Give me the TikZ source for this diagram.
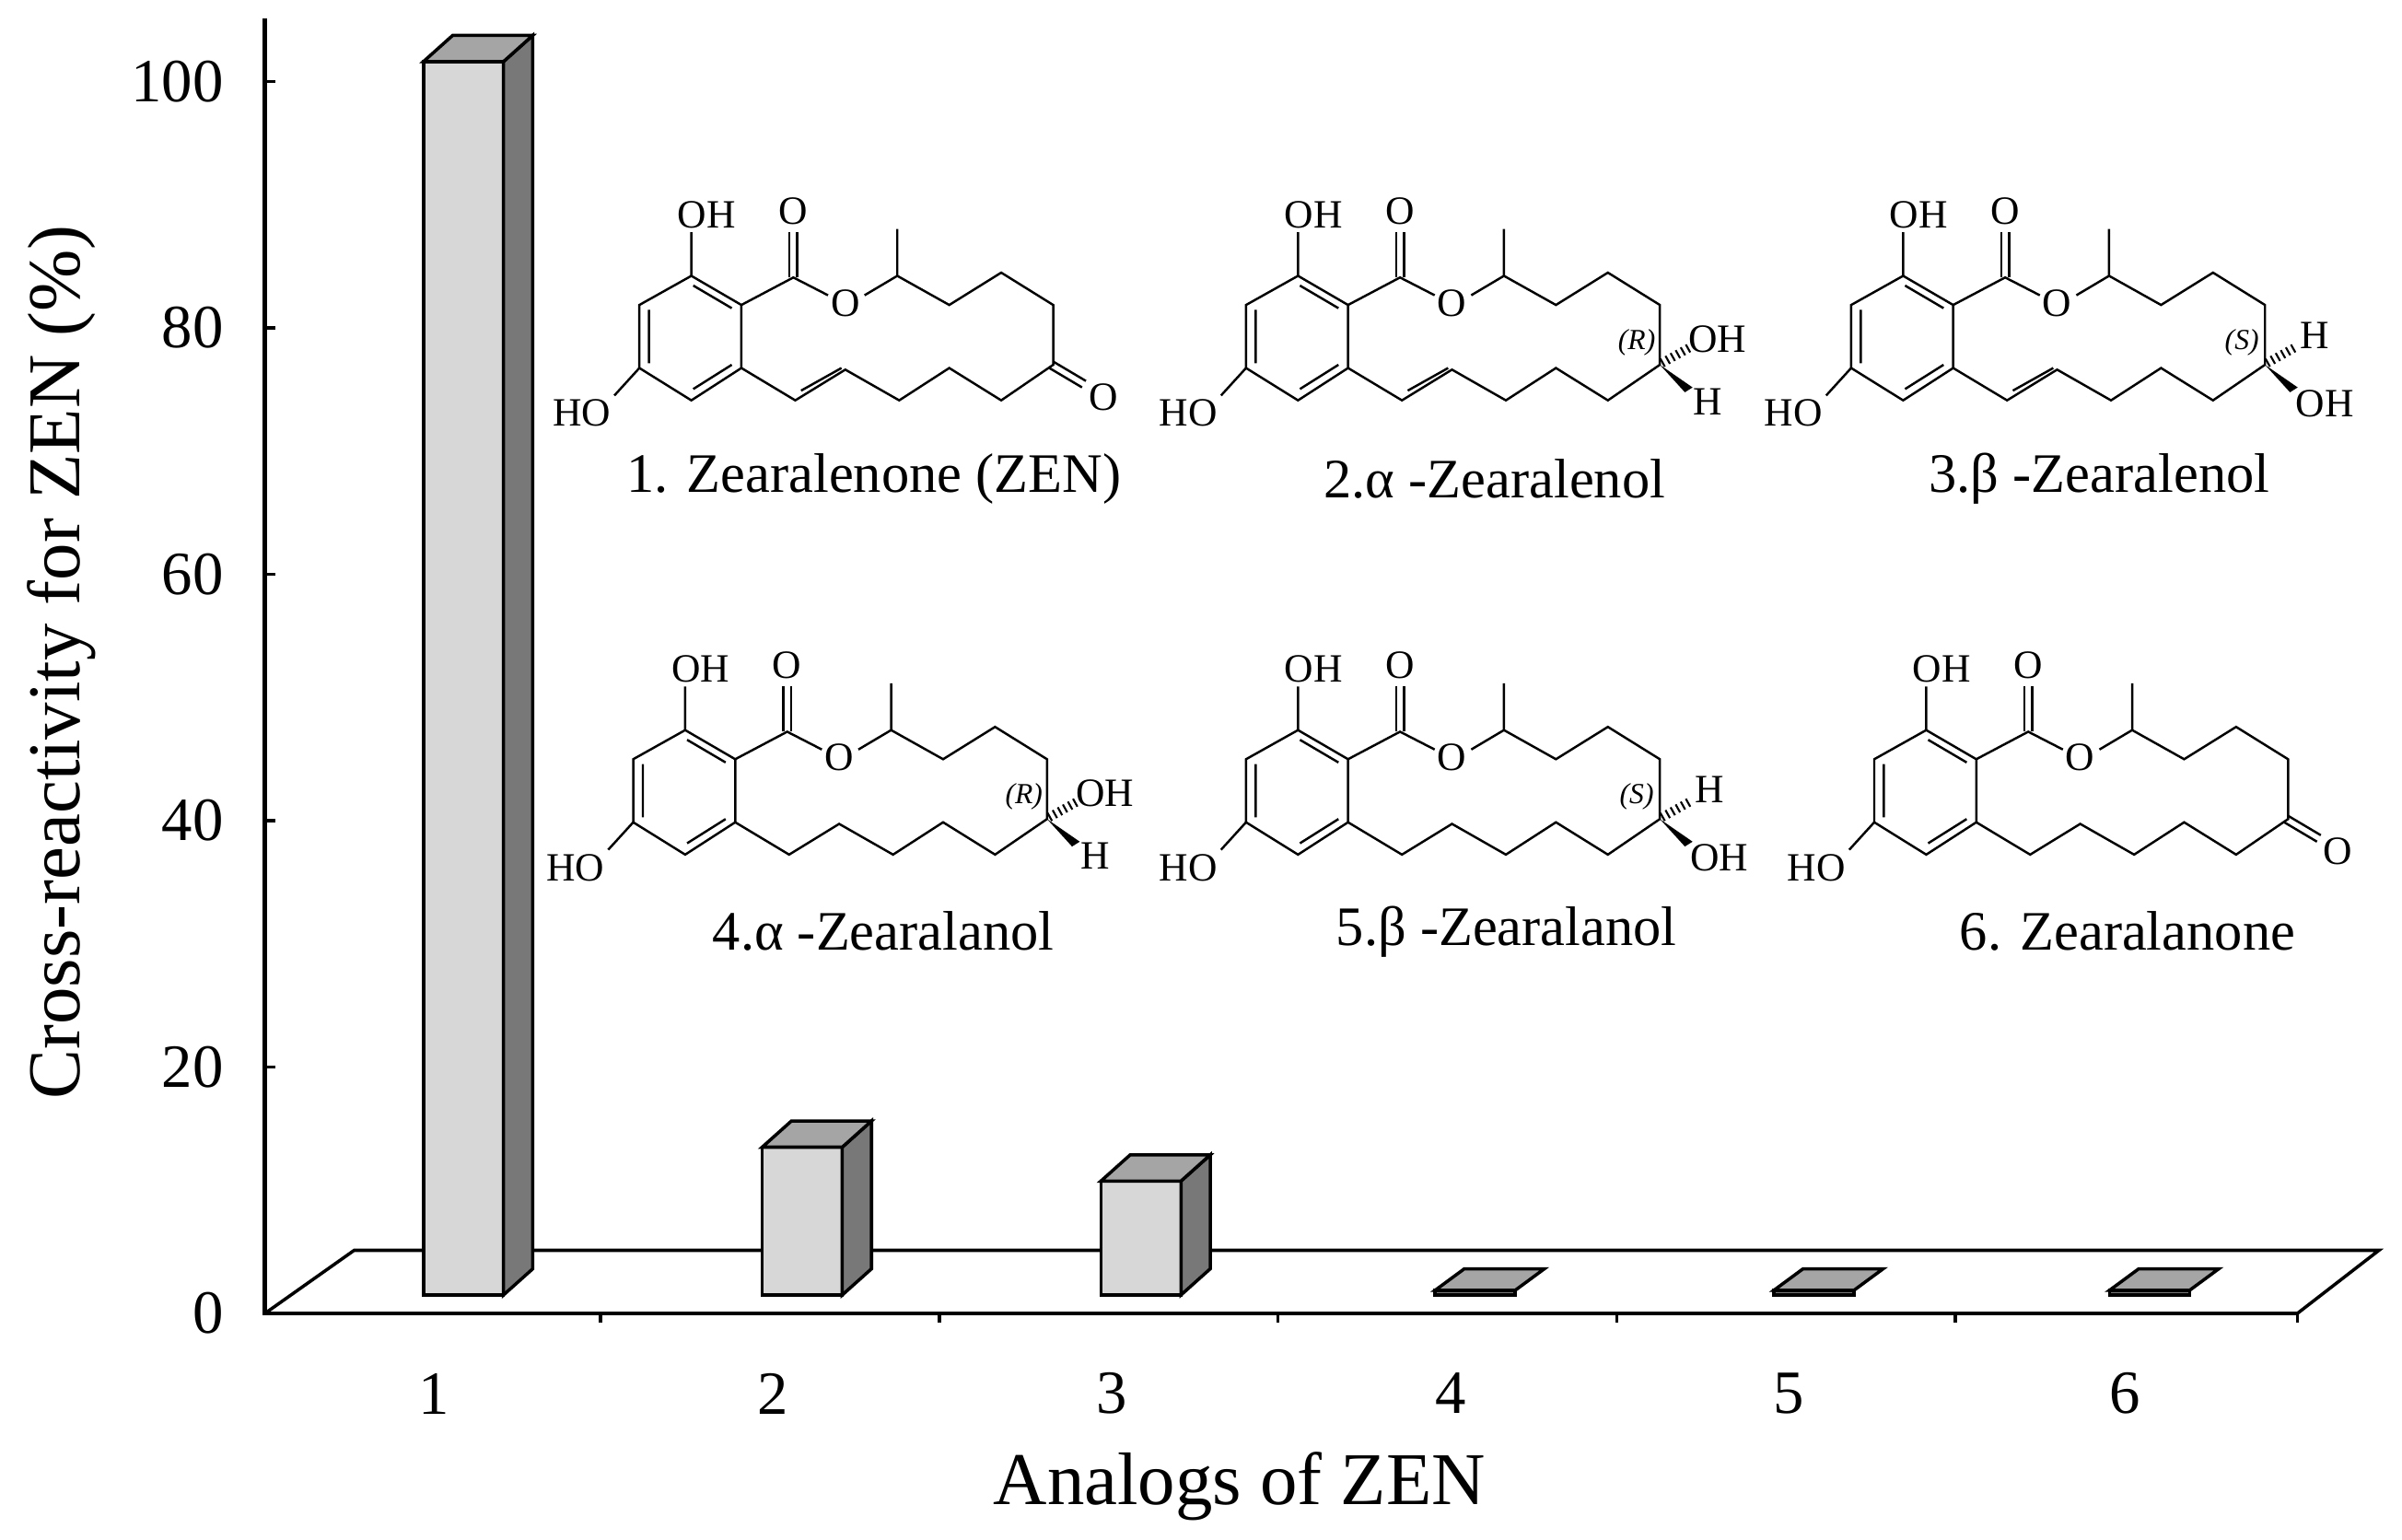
\documentclass[tikz,border=0pt]{standalone}
\usepackage{fontspec}
\setmainfont{LiberationSerif}[Extension=.ttf, UprightFont=*-Regular, BoldFont=*-Bold, ItalicFont=*-Italic, BoldItalicFont=*-BoldItalic]
\definecolor{barface}{RGB}{215,215,215}
\definecolor{barside}{RGB}{120,120,120}
\definecolor{bartop}{RGB}{165,165,165}
\tikzset{
  atom/.style={font=\fontsize{6.2}{7}\selectfont, inner sep=0.5pt},
  stereo/.style={font=\fontsize{4.5}{5}\selectfont\itshape, inner sep=0pt},
  bond/.style={line width=0.35pt},
  molname/.style={font=\fontsize{8.6}{10}\selectfont, anchor=west},
  ticklabel/.style={font=\fontsize{9.5}{11}\selectfont},
  face/.style={draw, fill=barface, line width=0.5pt},
  side/.style={draw, fill=barside, line width=0.5pt},
  top/.style={draw, fill=bartop, line width=0.5pt},
  mol/.style={xscale=0.25, yscale=0.21},
  % common skeleton of the analogs
  zencore/.pic={
    \draw[bond] (400,315) -- (530,405) -- (530,600) -- (400,700) -- (265,600) -- (265,405) -- cycle;
    \draw[bond] (405,345) -- (505,415) (505,590) -- (405,665) (290,420) -- (290,585);
    \draw[bond] (400,315) -- (400,180) (265,600) -- (200,685);
    \node[atom] (-oh) at (440,125) {OH};
    \node[atom] (-ho) at (115,740) {HO};
    \draw[bond] (530,405) -- (665,320) -- (755,375);
    \draw[bond] (655,320) -- (655,180) (675,320) -- (675,180);
    \node[atom] (-co) at (665,115) {O};
    \node[atom] (-eo) at (800,400) {O};
    \draw[bond] (850,375) -- (935,315) -- (935,170);
    \draw[bond] (935,315) -- (1070,405) -- (1205,305) -- (1340,405) -- (1340,590)
      -- (1205,700) -- (1070,600) -- (940,700) -- (800,605) -- (670,700) -- (530,600);
  },
  zenene/.pic={\draw[bond] (685,670) -- (790,600);},
  zenketo/.pic={
    \draw[bond] (1340,580) -- (1425,640) (1330,600) -- (1415,660);
    \node[atom] (-ko) at (1470,690) {O};
  },
  zenR/.pic={
    \node[stereo] (-st) at (1280,520) {(R)};
    \draw[bond, dash pattern=on 0.3pt off 0.6pt, line width=1.4pt] (1345,585) -- (1420,535);
    \node[atom] (-oh2) at (1490,510) {OH};
    \fill (1340,590) -- (1425,660) -- (1405,675) -- cycle;
    \node[atom] (-h) at (1465,705) {H};
  },
  zenS/.pic={
    \node[stereo] (-st) at (1280,520) {(S)};
    \draw[bond, dash pattern=on 0.3pt off 0.6pt, line width=1.4pt] (1345,585) -- (1420,535);
    \node[atom] (-h) at (1470,500) {H};
    \fill (1340,590) -- (1425,660) -- (1405,675) -- cycle;
    \node[atom] (-oh2) at (1495,710) {OH};
  },
}
\begin{document}
\begin{tikzpicture}[x=0.0836mm, y=-0.0836mm]
  \useasboundingbox (0,0) rectangle (1560,1000);
  % floor and axes
  \draw[line width=0.5pt] (172,853) -- (230,812) -- (1545,812) -- (1492,853);
  \draw[line width=0.6pt] (172,12) -- (172,853) -- (1492,853);
  \foreach \v in {0,20,...,100} {
    \draw[line width=0.5pt] (172,853-8*\v) -- (179,853-8*\v);
    \node[ticklabel, anchor=east] (ytick\v) at (160,853-8*\v) {\v};
  }
  \foreach \x in {390,610,830,1050,1270,1492}
    \draw[line width=0.5pt] (\x,853) -- (\x,859);
  \foreach \n/\x in {1/282,2/502,3/722,4/942,5/1162,6/1380}
    \node[ticklabel] (xtick\n) at (\x,905) {\n};
  \node[font=\fontsize{11.5}{13}\selectfont] (xlabel) at (805,965) {Analogs of ZEN};
  \node[font=\fontsize{11.5}{13}\selectfont, rotate=90] (ylabel) at (40,430) {Cross-reactivity for ZEN (\%)};
  % bars
  \foreach \n/\x/\t in {1/275/40,2/495/745,3/715/767} {
    \draw[face] (\x,\t) rectangle (\x+52,841);
    \draw[side] (\x+52,\t) -- (\x+71,\t-17) -- (\x+71,824) -- (\x+52,841) -- cycle;
    \draw[top] (\x,\t) -- (\x+19,\t-17) -- (\x+71,\t-17) -- (\x+52,\t) -- cycle;
    \coordinate (bar\n) at (\x+26,\t);
  }
  \foreach \n/\x in {4/932,5/1152,6/1370} {
    \draw[side] (\x,841) -- (\x,838) -- (\x+52,838) -- (\x+52,841) -- cycle;
    \draw[top] (\x,838) -- (\x+19,824) -- (\x+71,824) -- (\x+52,838) -- cycle;
    \coordinate (bar\n) at (\x+26,838);
  }
  % structures
  \pic[mol] (m1) at (349,113) {zencore};
  \pic[mol] (m1e) at (349,113) {zenene};
  \pic[mol] (m1k) at (349,113) {zenketo};
  \node[molname] (name1) at (392,311) {1. Zearalenone (ZEN)};
  \pic[mol] (m2) at (743,113) {zencore};
  \pic[mol] (m2e) at (743,113) {zenene};
  \pic[mol] (m2r) at (743,113) {zenR};
  \node[molname] (name2) at (845,311) {2.α -Zearalenol};
  \pic[mol] (m3) at (1136,113) {zencore};
  \pic[mol] (m3e) at (1136,113) {zenene};
  \pic[mol] (m3s) at (1136,113) {zenS};
  \node[molname] (name3) at (1238,311) {3.β -Zearalenol};
  \pic[mol] (m4) at (345,408) {zencore};
  \pic[mol] (m4r) at (345,408) {zenR};
  \node[molname] (name4) at (448,605) {4.α -Zearalanol};
  \pic[mol] (m5) at (743,408) {zencore};
  \pic[mol] (m5s) at (743,408) {zenS};
  \node[molname] (name5) at (853,605) {5.β -Zearalanol};
  \pic[mol] (m6) at (1151,408) {zencore};
  \pic[mol] (m6k) at (1151,408) {zenketo};
  \node[molname] (name6) at (1258,605) {6. Zearalanone};
\end{tikzpicture}
\end{document}
